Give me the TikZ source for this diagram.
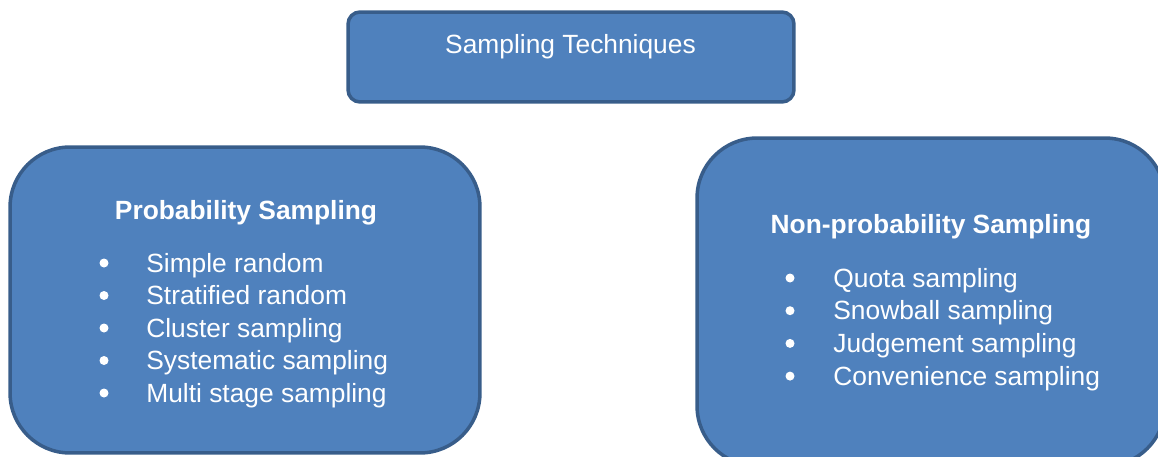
\documentclass[tikz,border=0pt]{standalone}
\usepackage{fontspec}
\setmainfont{Liberation Sans}
\usetikzlibrary{positioning}
\definecolor{PanelBlue}{HTML}{4F81BD}
\definecolor{PanelEdge}{HTML}{385D8A}
\tikzset{
  panel/.style={draw=PanelEdge, fill=PanelBlue, line width=2pt},
  boxtext/.style={text=white, font=\fontsize{15}{18}\selectfont, inner sep=0pt, anchor=base},
  itemtext/.style={boxtext, anchor=base west},
  dot/.style={circle, fill=white, inner sep=0pt, minimum size=0.18cm},
}

\begin{document}
\begin{tikzpicture}[x=0.02cm, y=-0.02cm]
    \useasboundingbox (0,0) rectangle (1158,456);
    \clip (0,0) rectangle (1158,456);

    % Boxes
    \node[panel, rounded corners=0.24cm, minimum width=8.92cm, minimum height=1.8cm] (techbox) at (571,57) {};
    \node[panel, rounded corners=1.2cm, minimum width=9.4cm, minimum height=6.12cm] (probbox) at (245,300) {};
    \node[panel, rounded corners=1.2cm, minimum width=9.36cm, minimum height=6.56cm] (nonprobbox) at (931,302) {};

    % Headings
    \node[boxtext] (techtitle) at (570.5,54) {Sampling Techniques};
    \node[boxtext, font=\fontsize{15}{18}\selectfont\bfseries] (probtitle) at (246,219) {Probability Sampling};
    \node[boxtext, font=\fontsize{15}{18}\selectfont\bfseries] (nonprobtitle) at (931,233) {Non-probability Sampling};

    % Probability methods
    \foreach \txt [count=\i from 0] in {Simple random, Stratified random, Cluster sampling, Systematic sampling, Multi stage sampling} {
        \node[dot] (pbullet\i) at (104, 263+32.5*\i) {};
        \node[itemtext] (pitem\i) at (146, 272+32.5*\i) {\txt};
    }

    % Non-probability methods
    \foreach \txt [count=\i from 0] in {Quota sampling, Snowball sampling, Judgement sampling, Convenience sampling} {
        \node[dot] (nbullet\i) at (790, 278+32.7*\i) {};
        \node[itemtext] (nitem\i) at (833, 287+32.7*\i) {\txt};
    }
\end{tikzpicture}
\end{document}
